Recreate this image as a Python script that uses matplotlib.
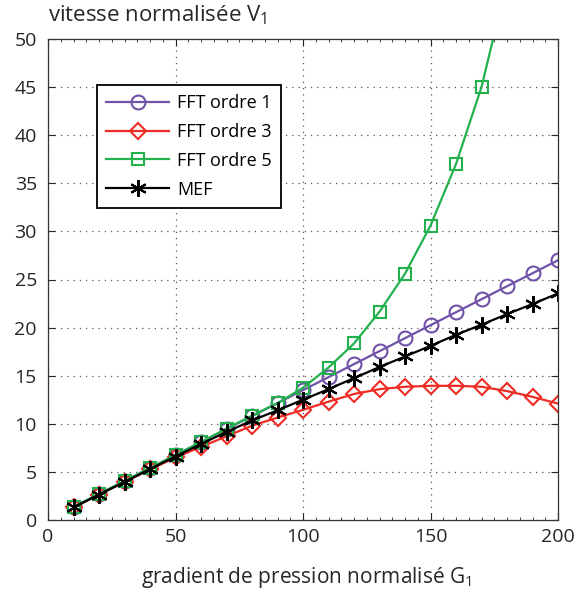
import matplotlib
matplotlib.use("Agg")
import matplotlib.pyplot as plt
from matplotlib.ticker import MultipleLocator

plt.rcParams['font.family'] = ['Open Sans', 'DejaVu Sans']
plt.rcParams['mathtext.fontset'] = 'custom'
plt.rcParams['mathtext.rm'] = 'Open Sans'
plt.rcParams['mathtext.it'] = 'Open Sans'

x = [10, 20, 30, 40, 50, 60, 70, 80, 90, 100, 110, 120, 130, 140, 150, 160, 170, 180, 190, 200]
fft1 = [1.35, 2.7, 4.05, 5.4, 6.75, 8.1, 9.45, 10.8, 12.15, 13.5, 14.85, 16.2, 17.55, 18.9, 20.25, 21.6, 22.95, 24.3, 25.65, 27.0]
fft3 = [1.3, 2.65, 3.95, 5.25, 6.5, 7.6, 8.7, 9.8, 10.65, 11.45, 12.3, 13.1, 13.6, 13.85, 13.95, 13.95, 13.85, 13.4, 12.8, 12.1]
x5 = [10, 20, 30, 40, 50, 60, 70, 80, 90, 100, 110, 120, 130, 140, 150, 160, 170, 180]
fft5 = [1.35, 2.7, 4.05, 5.4, 6.75, 8.1, 9.5, 10.85, 12.15, 13.75, 15.85, 18.35, 21.65, 25.6, 30.6, 37.0, 45.0, 56.0]
mef = [1.3, 2.65, 3.95, 5.3, 6.6, 7.9, 9.15, 10.35, 11.4, 12.5, 13.6, 14.75, 15.9, 17.0, 18.1, 19.25, 20.3, 21.4, 22.45, 23.55]

labels = ['FFT ordre 1', 'FFT ordre 3', 'FFT ordre 5', 'MEF']
xticks = [0, 50, 100, 150, 200]
yticks = [0, 5, 10, 15, 20, 25, 30, 35, 40, 45, 50]

fig = plt.figure(figsize=(5.79, 5.94), dpi=100)
ax = fig.add_axes([48/579, 1-520/594, 510/579, 481/594])

c1 = '#7052a8'
c3 = '#ee2b24'
c5 = '#22b14c'
lw = 1.6
ax.plot(x, fft1, color=c1, lw=lw, marker='o', ms=10, mfc='none', mew=1.5, label=labels[0])
ax.plot(x, fft3, color=c3, lw=lw, marker='D', ms=8.5, mfc='none', mew=1.5, label=labels[1])
ax.plot(x5, fft5, color=c5, lw=lw, marker='s', ms=8, mfc='none', mew=1.5, label=labels[2])
ax.plot(x, mef, color='black', lw=lw, marker=(6, 2, 0), ms=12, mew=1.5, label=labels[3])

ax.set_xlim(0, 200)
ax.set_ylim(0, 50)
ax.set_xticks(xticks)
ax.set_yticks(yticks)
ax.xaxis.set_minor_locator(MultipleLocator(5))
ax.tick_params(which='both', direction='in', top=True, right=True, labelsize=14, colors='#262626')
ax.tick_params(which='major', length=5, width=0.8)
ax.tick_params(which='minor', length=2.5, width=0.6)
ax.tick_params(axis='x', pad=6)
ax.tick_params(axis='y', pad=8)
ax.grid(True, which='major', linestyle=(0, (1, 4)), color='#555555', lw=0.9)
for s in ax.spines.values():
    s.set_color('#333333')
    s.set_linewidth(0.9)

leg = ax.legend(loc='upper left', bbox_to_anchor=((97-48)/510, 1 - (85-39)/481),
                frameon=True, fancybox=False, edgecolor='black', fontsize=13,
                handlelength=3.5, borderpad=0.5, labelspacing=0.6, handletextpad=0.45,
                borderaxespad=0)
leg.get_frame().set_linewidth(1.3)
leg.get_frame().set_alpha(1)

fig.text(48/579, 1-15/594, 'vitesse normalisée V$_1$', fontsize=16, ha='left', va='center', color='#262626')
fig.text(306/579, 1-578/594, 'gradient de pression normalisé G$_1$', fontsize=15, ha='center', va='center', color='#262626')

fig.savefig('out.png', dpi=100)
